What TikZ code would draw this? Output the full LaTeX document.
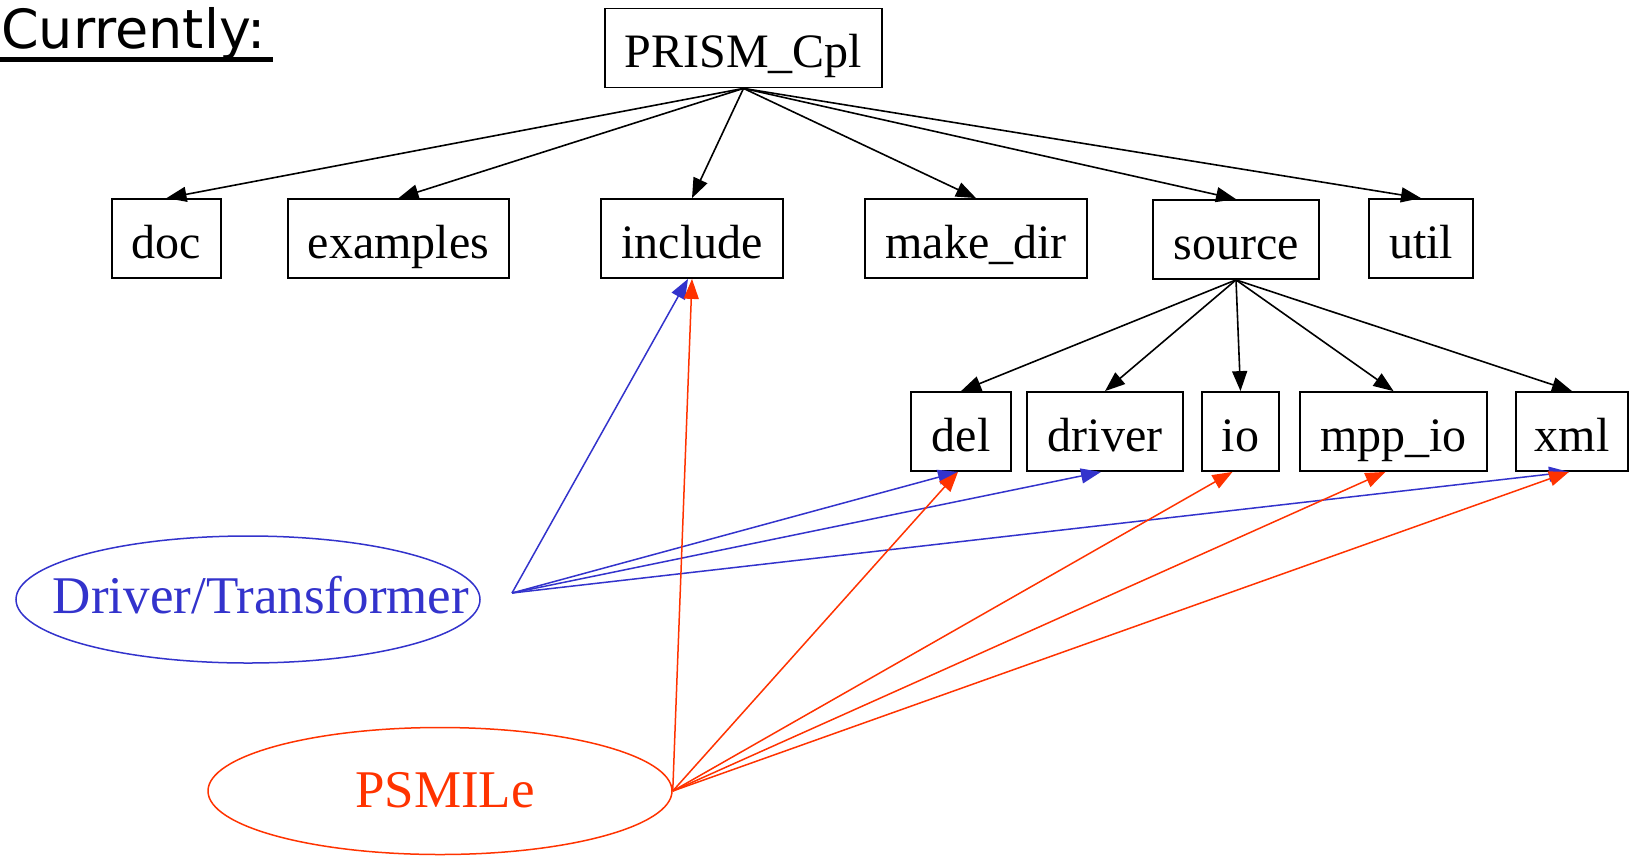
\documentclass[tikz,border=0pt]{standalone}
\usepackage{fontspec}
\setmainfont{Liberation Serif}
\newfontfamily\comicfont{DejaVu Sans}
\usetikzlibrary{arrows.meta,shapes.geometric}
\definecolor{dblue}{HTML}{3333CC}
\definecolor{dred}{HTML}{FF3300}
\begin{document}
\begin{tikzpicture}[x=1pt,y=-1pt,
  box/.style={draw,line width=1.8pt,rectangle,inner sep=0pt,minimum height=79pt,text height=44pt,text depth=5pt,font=\fontsize{48}{56}\selectfont},
  tree/.style={line width=1.6pt,-{Triangle[length=20pt,width=15pt]}},
  bl/.style={dblue,line width=1.5pt,-{Triangle[length=20pt,width=15pt]}},
  rd/.style={dred,line width=1.5pt,-{Triangle[length=20pt,width=15pt]}},
  oval/.style={ellipse,draw,line width=1.5pt,minimum width=464pt,minimum height=127pt,inner sep=0pt},
  ovaltext/.style={anchor=base,inner sep=0pt,font=\fontsize{53}{60}\selectfont}]
\useasboundingbox (0,0) rectangle (1629,857);
\fill[white] (0,0) rectangle (1629,857);

% title
\node[anchor=base west,inner sep=0pt,font=\comicfont\fontsize{54}{60}\selectfont] (title) at (1,48) {Currently:};
\draw[line width=5pt] (0,59) -- (273,59);

% top
\node[box,minimum width=277pt] (prism) at (743.5,48) {PRISM\_Cpl};
% row 1
\node[box,minimum width=109pt] (doc) at (166.5,238.5) {doc};
\node[box,minimum width=221pt] (examples) at (398.5,238.5) {examples};
\node[box,minimum width=182pt] (include) at (692,238.5) {include};
\node[box,minimum width=222pt] (makedir) at (976,238.5) {make\_dir};
\node[box,minimum width=166pt] (source) at (1236,239.5) {source};
\node[box,minimum width=104pt] (util) at (1421,238.5) {util};
% row 2
\node[box,minimum width=100pt] (del) at (961,431.5) {del};
\node[box,minimum width=156pt] (driver) at (1105,431.5) {driver};
\node[box,minimum width=77pt] (io) at (1240.5,431.5) {io};
\node[box,minimum width=187pt] (mppio) at (1393.5,431.5) {mpp\_io};
\node[box,minimum width=112pt] (xml) at (1572,431.5) {xml};

% ellipses
\node[oval,draw=dblue] (dt) at (248,599.5) {};
\node[ovaltext,text=dblue] (dtlabel) at (261,613) {Driver/Transformer};
\node[oval,draw=dred] (psmile) at (440,791) {};
\node[ovaltext,text=dred] (psmilelabel) at (445,807) {PSMILe};
\coordinate (dj) at (512,593);

% tree edges
\foreach \n in {doc,examples,include,makedir,source,util}
  \draw[tree] (prism.south) -- (\n.north);
\foreach \n in {del,driver,io,mppio,xml}
  \draw[tree] (source.south) -- (\n.north);

% blue edges
\draw[bl] (dj) -- ([xshift=-4pt]include.south);
\draw[bl] (dj) -- ([xshift=-3pt]del.south);
\draw[bl] (dj) -- ([xshift=-4pt]driver.south);
\draw[bl] (dj) -- ([xshift=-3pt]xml.south);

% red edges
\draw[rd] (psmile.east) -- (include.south);
\draw[rd] (psmile.east) -- ([xshift=-3pt]del.south);
\draw[rd] (psmile.east) -- ([xshift=-8pt]io.south);
\draw[rd] (psmile.east) -- ([xshift=-8pt]mppio.south);
\draw[rd] (psmile.east) -- ([xshift=-3pt]xml.south);
\end{tikzpicture}
\end{document}
